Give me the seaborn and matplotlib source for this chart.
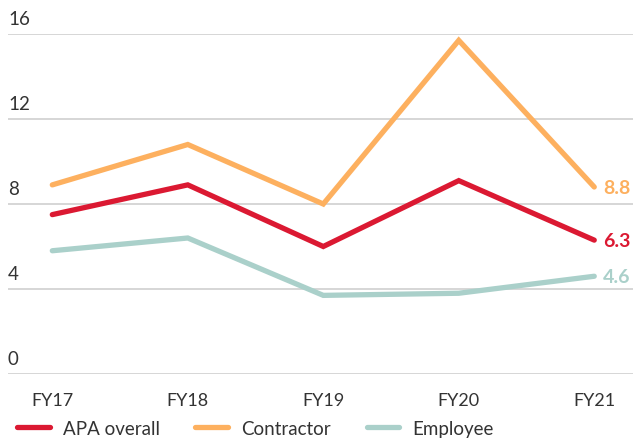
import matplotlib
matplotlib.use("Agg")
import matplotlib.pyplot as plt
import seaborn as sns
import pandas as pd

years = ["FY17", "FY18", "FY19", "FY20", "FY21"]
apa_overall = [7.5, 8.9, 6.0, 9.1, 6.3]
contractor = [8.9, 10.8, 8.0, 15.7, 8.8]
employee = [5.8, 6.4, 3.7, 3.8, 4.6]
series_names = ["APA overall", "Contractor", "Employee"]
end_labels = ["6.3", "8.8", "4.6"]
y_ticks = [0, 4, 8, 12, 16]

colors = {"APA overall": "#DB1932", "Contractor": "#FDB05F", "Employee": "#AAD0CA"}

rows = []
for name, vals in zip(series_names, [apa_overall, contractor, employee]):
    for i, (y, v) in enumerate(zip(years, vals)):
        rows.append({"year": y, "idx": i, "value": v, "series": name})
df = pd.DataFrame(rows)

sns.set_theme(style="white")
plt.rcParams["font.family"] = ["Lato", "DejaVu Sans"]

fig = plt.figure(figsize=(6.33, 4.39), dpi=100)
ax = fig.add_axes([8 / 633, 64 / 439, 625 / 633, 340 / 439])

sns.lineplot(data=df, x="idx", y="value", hue="series", palette=colors,
             hue_order=series_names, linewidth=3.8, ax=ax, legend=False,
             zorder=3)
for line in ax.get_lines():
    line.set_solid_capstyle("round")
    line.set_solid_joinstyle("miter")
    line.set_clip_on(False)

ax.set_xlim(-0.327, 4.286)
ax.set_ylim(0, 16)
for t in y_ticks:
    ax.axhline(t, color="#cccccc", lw=1.1, zorder=1)
    ax.text(0, t + 0.33, str(t), transform=ax.get_yaxis_transform(),
            ha="left", va="bottom", fontsize=13.5, color="#333333")

ax.set_yticks([])
ax.set_xticks(range(len(years)))
ax.set_xticklabels(years, fontsize=13, color="#333333")
ax.tick_params(axis="x", length=0, pad=13)
ax.set_xlabel("")
ax.set_ylabel("")
for s in ax.spines.values():
    s.set_visible(False)

# end labels
for name, vals, lab in zip(series_names, [apa_overall, contractor, employee], end_labels):
    ax.text(len(years) - 1 + 0.065, vals[-1], lab, ha="left", va="center",
            fontsize=14, fontweight="bold", color=colors[name])

handles = [plt.Line2D([], [], color=colors[n], lw=3.8, solid_capstyle="round") for n in series_names]
fig.legend(handles, series_names, loc="lower left", bbox_to_anchor=(0.0, -0.036),
           ncol=3, frameon=False, fontsize=13.5, handlelength=1.75,
           columnspacing=1.9, handletextpad=0.7, labelcolor="#333333")

fig.savefig("out.png", dpi=100)
